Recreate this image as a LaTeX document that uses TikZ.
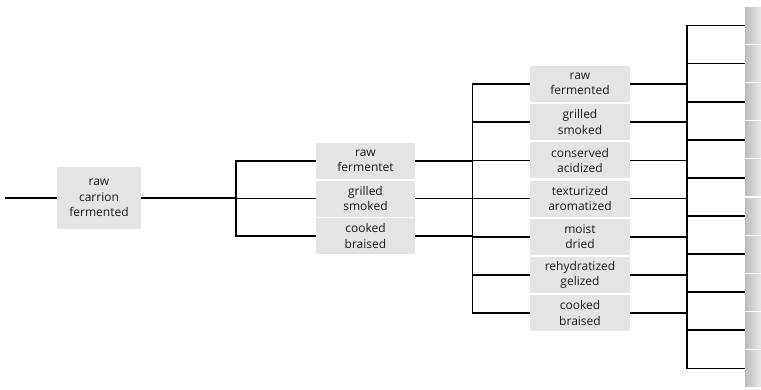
\documentclass[tikz,border=0pt]{standalone}
\usepackage{fontspec}
\setmainfont{Open Sans}
\usetikzlibrary{positioning}

\definecolor{boxgray}{HTML}{E4E4E4}
\definecolor{textgray}{HTML}{1A1A1A}
\definecolor{stripdark}{HTML}{BEBEBE}
\definecolor{striplight}{HTML}{E8E8E8}

\begin{document}
\begin{tikzpicture}[x=1pt,y=-1pt,
box/.style={fill=boxgray,text=textgray,align=center,inner sep=0pt,
font=\fontsize{12}{15.5}\selectfont},
rootbox/.style={box,minimum width=84pt,minimum height=62pt},
midbox/.style={box,minimum width=99pt,minimum height=36pt},
leafbox/.style={box,minimum width=100pt,minimum height=36pt},
stripbox/.style={left color=stripdark,right color=striplight,
minimum width=16pt,minimum height=36pt,inner sep=0pt,anchor=west},
branch/.style={line width=1.7pt,black},
trunk/.style={branch,line cap=rect}]
\clip (0,0) rectangle (761,389);
% boxes
\node[rootbox] (root) at (99,198) {raw\\carrion\\fermented};
\coordinate (start) at (5,198);
\foreach \txt [count=\i] in {{raw\\fermentet},{grilled\\smoked},{cooked\\braised}}
  \node[midbox] (mid\i) at (365.5,{161+37.5*(\i-1)}) {\txt};
\foreach \txt [count=\i] in {{raw\\fermented},{grilled\\smoked},{conserved\\acidized},
  {texturized\\aromatized},{moist\\dried},{rehydratized\\gelized},{cooked\\braised}}
  \node[leafbox] (leaf\i) at (580,{84+38.2*(\i-1)}) {\txt};
\foreach \k in {1,...,10}
  \node[stripbox] (strip\k) at (745,{25.5+38.1*(\k-1)}) {};
% junctions
\coordinate (j1) at (236,0);
\coordinate (j2) at (472.5,0);
\coordinate (j3) at (687,0);
% level 0
\draw[branch] (start) -- (root.west);
\draw[branch] (root.east) -- (root.east -| j1);
% level 1
\draw[trunk] (mid1.west -| j1) -- (mid3.west -| j1);
\foreach \i in {1,2,3} {
  \draw[branch] (mid\i.west -| j1) -- (mid\i.west);
  \draw[branch] (mid\i.east) -- (mid\i.east -| j2);
}
% level 2
\draw[trunk] (leaf1.west -| j2) -- (leaf7.west -| j2);
\foreach \i in {1,...,7} {
  \draw[branch] (leaf\i.west -| j2) -- (leaf\i.west);
  \draw[branch] (leaf\i.east) -- (leaf\i.east -| j3);
}
% level 3
\draw[trunk] (strip1.west -| j3) -- (strip10.west -| j3);
\foreach \k in {1,...,10}
  \draw[branch] (strip\k.west -| j3) -- (strip\k.west);
\end{tikzpicture}
\end{document}
